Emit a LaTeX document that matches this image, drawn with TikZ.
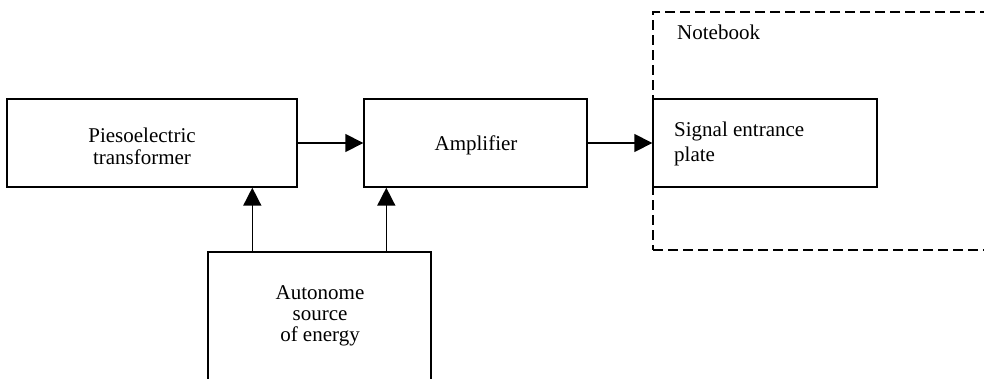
\documentclass[tikz,border=0pt]{standalone}
\usepackage{fontspec}
\setmainfont{Liberation Serif}
\usetikzlibrary{arrows.meta}
\begin{document}
\begin{tikzpicture}[x=1pt,y=-1pt,
  box/.style={draw,line width=1.4pt,inner sep=0pt},
  nbbox/.style={draw,line width=1.4pt,dash pattern=on 10pt off 5pt,inner sep=0pt},
  lbl/.style={font=\fontsize{21}{22}\selectfont,inner sep=0pt,align=center},
  conn/.style={line width=1.6pt,-{Triangle[length=18pt,width=18pt]}}]
\useasboundingbox (0,0) rectangle (984,378);
% notebook frame (extends beyond right edge)
\node[nbbox,minimum width=357pt,minimum height=238pt] (nb) at (831.5,131) {};
\node[lbl,anchor=base west] (nbl) at (677,39) {Notebook};
% boxes
\node[box,minimum width=290pt,minimum height=88pt] (piezo) at (152,143) {};
\node[box,minimum width=223pt,minimum height=88pt] (amp) at (475.5,143) {};
\node[box,minimum width=224pt,minimum height=88pt,fill=white] (sig) at (765,143) {};
\node[box,minimum width=223pt,minimum height=160pt] (auto) at (319.5,332) {};
% labels
\node[lbl] (piezol) at (142,146) {Piesoelectric\\transformer};
\node[lbl,anchor=base] (ampl) at (476,150) {Amplifier};
\node[lbl,align=left,anchor=west,font=\fontsize{21}{24.5}\selectfont] (sigl) at (674,144) {Signal entrance\\plate};
\node[lbl,font=\fontsize{21}{21}\selectfont] (autol) at (320,316) {Autonome\\source\\of energy};
% connectors
\draw[conn] (piezo.east) -- (amp.west);
\draw[conn] (amp.east) -- (sig.west);
\draw[conn] ([xshift=45pt]auto.north west) coordinate (s1) -- (piezo.south -| s1);
\draw[conn] ([xshift=179pt]auto.north west) coordinate (s2) -- (amp.south -| s2);
\end{tikzpicture}
\end{document}
